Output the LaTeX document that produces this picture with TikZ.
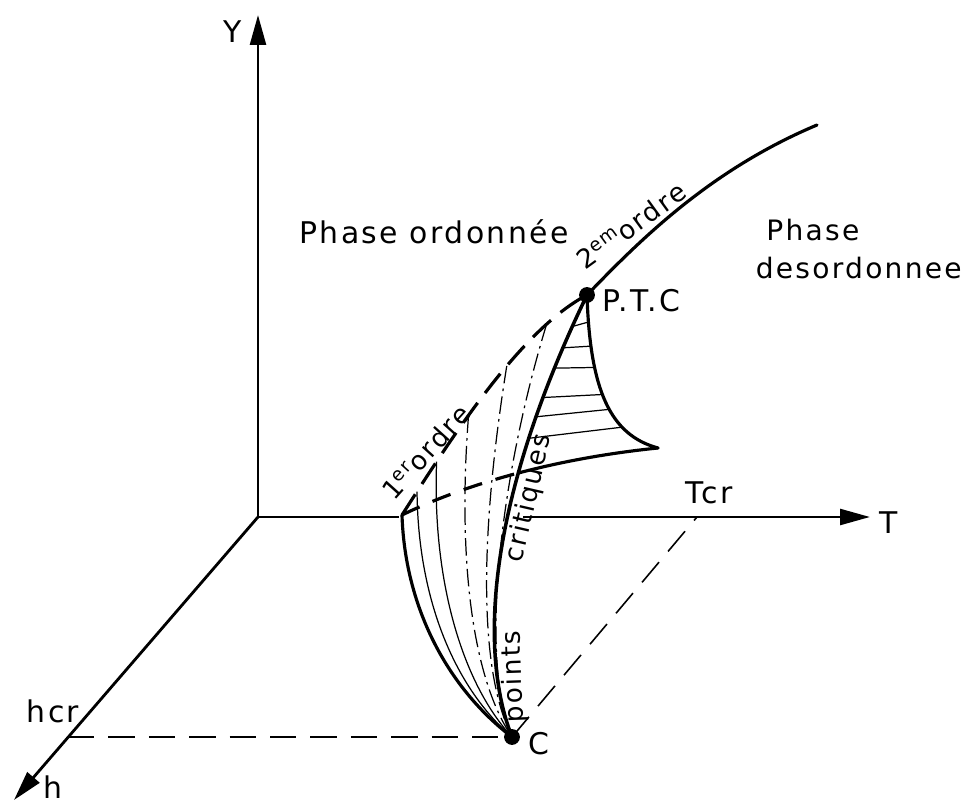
\documentclass[tikz,border=0pt]{standalone}
\usepackage{fontspec}
\newfontfamily\lettrage{DejaVu Sans}[LetterSpace=8]
\usetikzlibrary{arrows.meta, positioning}

\begin{document}
\begin{tikzpicture}[
    x=0.02cm, y=-0.02cm,
    axe/.style={line width=1.6pt},
    fleche/.style={axe, -{Triangle[length=17pt, width=9pt]}},
    bord/.style={line width=1.8pt, line cap=round},
    hachure/.style={line width=0.7pt},
    mixte/.style={hachure, dash pattern=on 10pt off 3pt on 1.5pt off 3pt},
    tiret/.style={line width=0.9pt, dash pattern=on 15pt off 8pt},
    cache/.style={line width=1.8pt, dash pattern=on 14pt off 7pt},
    pastille/.style={circle, fill=black, inner sep=0pt, minimum size=9pt},
    lbl/.style={font=\lettrage\fontsize{17}{21.5}\selectfont, inner sep=2pt},
    lblr/.style={font=\lettrage\fontsize{15}{18}\selectfont, inner sep=1.5pt},
]
\useasboundingbox (0,0) rectangle (978,807);

%% ---- POINTS ----
\coordinate (O)      at (258,517);
\coordinate (Ytip)   at (258,15);
\coordinate (Ttip)   at (870,517);
\coordinate (htip)   at (14,800);
\coordinate (Tcr)    at (697,517);
\coordinate (hcr)    at (68,737);
\coordinate (C)      at (512,737);
\coordinate (PTC)    at (587,295);
\coordinate (coin)   at (402,515);
\coordinate (pointe) at (658,448);
\coordinate (fin)    at (817,125);
\coordinate (milieu) at (518.75,472.9);
\coordinate (axe1)   at (399,517);
\coordinate (axe2)   at (523,517);

%% ---- AXES ----
\draw[fleche] (O) -- (Ytip);
\draw[axe] (O) -- (axe1);
\draw[fleche] (axe2) -- (Ttip);
\draw[fleche] (O) -- (htip);

%% ---- PROJECTIONS ----
\draw[tiret] (hcr) -- (C);
\draw[tiret] (C) -- (Tcr);

%% ---- SURFACE DU 1er ORDRE ----
\draw[bord] (coin) .. controls (405,610) and (450,690) .. (C);
\draw[cache] (coin) .. controls (450,440) and (520,330) .. (PTC)
    node[lblr, pos=0.22, rotate=48, above=0pt] (lordre1) {1\textsuperscript{er}ordre}
    coordinate[pos=0.1] (d1)
    coordinate[pos=0.22] (d2)
    coordinate[pos=0.4] (d3)
    coordinate[pos=0.6] (d4)
    coordinate[pos=0.8] (d5);

\draw[hachure] (d1) .. controls (418,600) and (455,688) .. (C);
\draw[hachure] (d2) .. controls (432,580) and (462,683) .. (C);
\draw[mixte]   (d3) .. controls (458,550) and (470,675) .. (C);
\draw[mixte]   (d4) .. controls (482,520) and (476,665) .. (C);
\draw[mixte]   (d5) .. controls (502,470) and (478,655) .. (C);

%% ---- POINTS CRITIQUES ----
\draw[bord, line width=2pt] (C) .. controls (478,650) and (488,500) .. (PTC)
    node[lblr, pos=0.2, rotate=92, anchor=north] (lpoints) {points}
    node[lblr, pos=0.64, rotate=77, anchor=north] (lcrit) {critiques}
    coordinate[pos=0.948] (k1)
    coordinate[pos=0.912] (k2)
    coordinate[pos=0.877] (k3)
    coordinate[pos=0.825] (k4)
    coordinate[pos=0.79]  (k5)
    coordinate[pos=0.75]  (k6);

%% ---- AILE ----
\draw[bord] (PTC) .. controls (590,390) and (610,435) .. (pointe)
    coordinate[pos=0.1]  (r1)
    coordinate[pos=0.2]  (r2)
    coordinate[pos=0.3]  (r3)
    coordinate[pos=0.45] (r4)
    coordinate[pos=0.55] (r5)
    coordinate[pos=0.7]  (r6);
\draw[cache, dash pattern=on 11pt off 8pt] (coin) .. controls (436,498.5) and (475.5,484.25) .. (milieu);
\draw[bord] (milieu) .. controls (562,461.5) and (609,453) .. (pointe);
\foreach \i in {1,...,6}
    \draw[hachure] (k\i) -- (r\i);

%% ---- 2eme ORDRE ----
\draw[bord] (PTC) .. controls (640,240) and (710,170) .. (fin)
    node[lblr, pos=0.3, rotate=36, above=3pt] (lordre2) {2\textsuperscript{em}ordre};

%% ---- POINTS MARQUES ----
\node[pastille] (ptc) at (PTC) {};
\node[pastille] (c) at (C) {};

%% ---- LABELS ----
\node[lbl, right=2pt of ptc, yshift=-3pt] (lptc) {P.T.C};
\node[lbl, right=2.5pt of c, yshift=-3.5pt] (lc) {C};
\node[lbl] (ly)    at (233,32)  {Y};
\node[lbl] (lt)    at (889,523) {T};
\node[lbl] (lh)    at (53,787)  {h};
\node[lbl] (ltcr)  at (709,493) {Tcr};
\node[lbl] (lhcr)  at (53,711)  {hcr};
\node[lbl] (ordo)  at (434,232) {Phase ordonnée};
\node[lbl, font=\lettrage\fontsize{16}{21.5}\selectfont, align=left, anchor=west]
    (desordo) at (752,249) {\hspace*{6pt}Phase\\desordonnee};

\end{tikzpicture}
\end{document}
